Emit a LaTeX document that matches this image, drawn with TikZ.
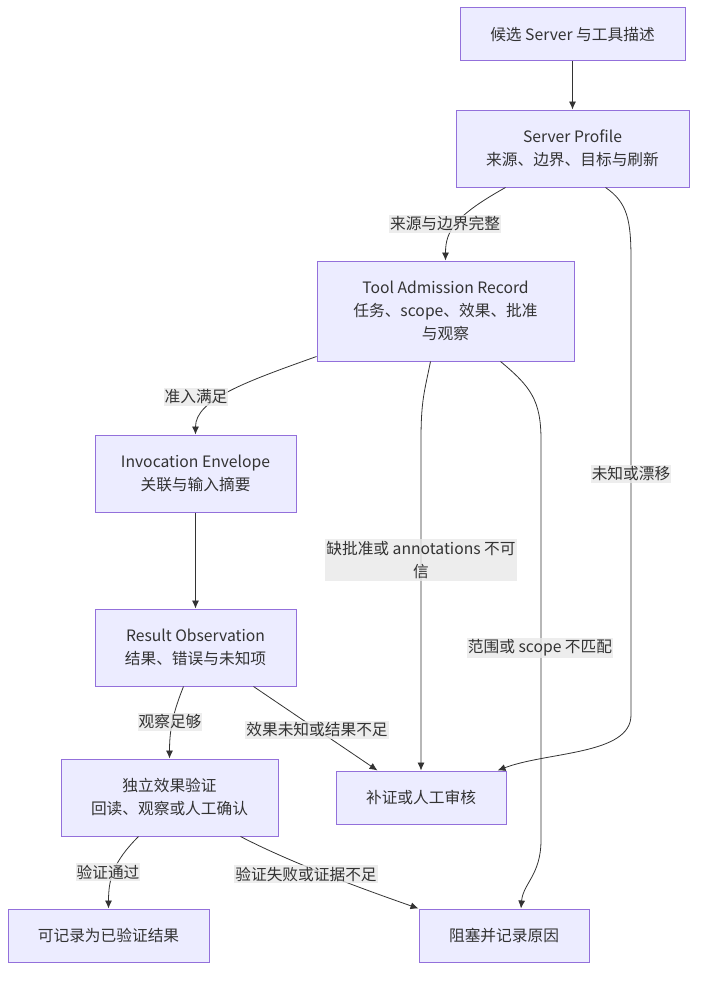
\documentclass[tikz,border=0pt]{standalone}
\usepackage{fontspec}
\setmainfont{Noto Sans CJK SC}
\usetikzlibrary{arrows.meta,calc}

\definecolor{boxfill}{HTML}{ECECFF}
\definecolor{boxline}{HTML}{9370DB}
\definecolor{edgeline}{HTML}{333333}
\definecolor{labelbg}{HTML}{E8E8E8}

\tikzset{
	stage/.style={draw=boxline, fill=boxfill, line width=1pt, align=center,
		text=edgeline, inner sep=0pt, font=\fontsize{15.7}{23}\selectfont},
	tag/.style={fill=labelbg, fill opacity=0.8, text opacity=1, text=edgeline,
		align=center, inner xsep=1pt, inner ysep=2pt, font=\fontsize{15.7}{23}\selectfont},
	flow/.style={draw=edgeline, line width=0.8pt, -{Latex[length=8pt,width=7pt]}},
}

\begin{document}
\begin{tikzpicture}[x=1pt,y=-1pt]
		\useasboundingbox (0,0) rectangle (705,982);

		% boxes
		\node[stage, minimum width=225, minimum height=53] (cand) at (572.5,34.5) {候选 Server 与工具描述};
		\node[stage, minimum width=233, minimum height=77] (profile) at (572.5,148.5) {Server Profile\\来源、边界、目标与刷新};
		\node[stage, minimum width=257, minimum height=100] (admit) at (445.5,311) {Tool Admission Record\\任务、scope、效果、批准\\与观察};
		\node[stage, minimum width=201, minimum height=77] (envelope) at (195.5,473.5) {Invocation Envelope\\关联与输入摘要};
		\node[stage, minimum width=201, minimum height=77] (observe) at (195.5,647.5) {Result Observation\\结果、错误与未知项};
		\node[stage, minimum width=217, minimum height=77] (verify) at (169.5,797.5) {独立效果验证\\回读、观察或人工确认};
		\node[stage, minimum width=170, minimum height=53] (review) at (421,797.5) {补证或人工审核};
		\node[stage, minimum width=201, minimum height=53] (record) at (108.5,935.5) {可记录为已验证结果};
		\node[stage, minimum width=170, minimum height=53] (block) at (504,935.5) {阻塞并记录原因};

		% connectors
		\draw[flow] (cand) -- (profile);
		\draw[flow] ($(profile.south)+(-67,0)$) .. controls +(-50,28) and +(0,-30) .. (admit.north);
		\draw[flow] ($(profile.south)+(33,0)$) .. controls +(22,15) and +(0,-40) .. (631,260)
			-- (631,715) .. controls +(0,40) and +(50,-19) .. ($(review.north east)+(-9,0)$);
		\draw[flow] ($(admit.south west)+(0,-5)$) .. controls +(-70,25) and +(0,-35) .. (envelope.north);
		\draw[flow] ($(admit.south)+(-15,0)$) .. controls +(-6,30) and +(0,-40) .. (421,440) -- (review.north);
		\draw[flow] ($(admit.south)+(55,0)$) .. controls +(30,25) and +(0,-40) .. (541,440)
			-- (541,840) .. controls +(0,35) and +(2,-25) .. ($(block.north)+(17,0)$);
		\draw[flow] (envelope) -- (observe);
		\draw[flow] ($(observe.south)+(-12,0)$) .. controls +(-10,25) and +(0,-30) .. (verify.north);
		\draw[flow] ($(observe.south)+(58,0)$) -- ($(review.north west)+(42,0)$);
		\draw[flow] ($(verify.south)+(-31,0)$) .. controls +(-25,25) and +(0,-30) .. (record.north);
		\draw[flow] ($(verify.south)+(71,0)$) .. controls +(50,26) and +(-60,-21) .. (block.north west);

		% edge labels
		\node[tag] (complete) at (445,224) {来源与边界完整};
		\node[tag] (drift) at (631,474) {未知或漂移};
		\node[tag] (admitted) at (196,397) {准入满足};
		\node[tag] (untrusted) at (421,560) {缺批准或 annotations 不可\\信};
		\node[tag] (mismatch) at (540,648) {范围或 scope 不匹配};
		\node[tag] (enough) at (170,722) {观察足够};
		\node[tag] (unknown) at (317,730) {效果未知或结果不足};
		\node[tag] (passed) at (108,872) {验证通过};
		\node[tag] (failed) at (306,874) {验证失败或证据不足};
	\end{tikzpicture}
\end{document}
